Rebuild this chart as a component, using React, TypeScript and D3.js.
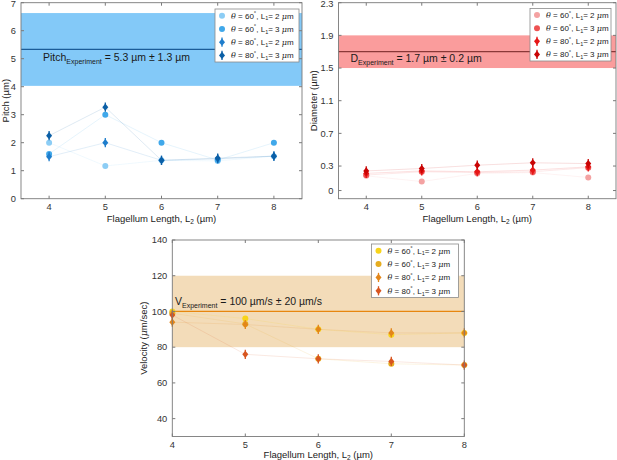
import React, { useEffect, useRef } from 'react';
import * as d3 from 'd3';

// flagellum length L2 (µm)
const lengths = [4, 5, 6, 7, 8];
const xTicks = [4, 5, 6, 7, 8];

// legend entries: theta (deg), L1 (µm)
const thetas = [60, 60, 80, 80];
const l1s = [2, 3, 2, 3];
const shapes = ['circle', 'circle', 'diamond', 'diamond'];

// pitch (µm)
const pitch60L2 = [2.0, 1.17, 1.37, 1.35, 1.52];
const pitch60L3 = [1.6, 3.0, 2.0, 1.38, 2.0];
const pitch80L2 = [1.5, 2.0, 1.37, 1.42, 1.52];
const pitch80L3 = [2.25, 3.27, 1.37, 1.45, 1.52];
const pitchTicks = [0, 1, 2, 3, 4, 5, 6, 7];

// diameter (µm)
const diam60L2 = [0.18, 0.11, 0.21, 0.22, 0.16];
const diam60L3 = [0.19, 0.23, 0.22, 0.23, 0.28];
const diam80L2 = [0.21, 0.24, 0.23, 0.25, 0.29];
const diam80L3 = [0.24, 0.27, 0.31, 0.34, 0.33];
const diamTicks = [0, 0.3, 0.7, 1.1, 1.5, 1.9, 2.3];

// velocity (µm/s)
const vel60L2 = [100, 96, 90, 87, 88];
const vel60L3 = [99, 93, 73.5, 70.7, 70];
const vel80L2 = [94, 92.7, 90, 88, 88];
const vel80L3 = [98, 76, 73.5, 72, 70];
const velTicks = [40, 60, 80, 100, 120, 140];

// experimental values: mean, spread
const pitchExp = [5.33, 1.3];
const diamExp = [1.7, 0.2];
const velExp = [100, 20];

const font = 'Arial, "Liberation Sans", Helvetica, sans-serif';

const panels = [
  {
    box: { l: 21, r: 302, t: 2.7, b: 198.7 },
    xDomain: [3.5, 8.5], yDomain: [0, 7], yTicks: pitchTicks,
    series: [pitch60L2, pitch60L3, pitch80L2, pitch80L3],
    colors: ['#8ccdf5', '#40a8ea', '#1e7dcc', '#0b5fa6'],
    exp: pitchExp, bandColor: '#83c9f8', meanColor: '#1b5c98',
    note: ['Pitch', 'Experiment', ' = 5.3 µm ± 1.3 µm'], noteX: 43, noteY: 61,
    legend: { x: 215, y: 9, w: 84, h: 53 },
    yLabel: 'Pitch (µm)', yLabelX: 9, xLabelY: 221.5, yFormat: d3.format('d'),
  },
  {
    box: { l: 338.5, r: 616, t: 2.7, b: 198.7 },
    xDomain: [3.5, 8.5], yDomain: [-0.1, 2.3], yTicks: diamTicks,
    series: [diam60L2, diam60L3, diam80L2, diam80L3],
    colors: ['#f4a2a2', '#ee5252', '#e61616', '#c90404'],
    exp: diamExp, bandColor: '#fa9c9c', meanColor: '#8a3838',
    note: ['D', 'Experiment', ' = 1.7 µm ± 0.2 µm'], noteX: 350.5, noteY: 62,
    legend: { x: 530, y: 8.5, w: 81, h: 52.5 },
    yLabel: 'Diameter (µm)', yLabelX: 317, xLabelY: 221.5, yFormat: (d: number) => (d === 0 ? '0' : d3.format('.1f')(d)),
  },
  {
    box: { l: 172.3, r: 464.3, t: 240, b: 436.5 },
    xDomain: [4, 8], yDomain: [30, 140], yTicks: velTicks,
    series: [vel60L2, vel60L3, vel80L2, vel80L3],
    colors: ['#f8d41a', '#e6ad20', '#e3861a', '#d8551f'],
    exp: velExp, bandColor: '#f3dcb9', meanColor: '#e7860f',
    note: ['V', 'Experiment', ' = 100 µm/s ± 20 µm/s'], noteX: 175, noteY: 305,
    legend: { x: 371.5, y: 244, w: 87, h: 53.5 },
    yLabel: 'Velocity (μm/sec)', yLabelX: 147, xLabelY: 458, yFormat: d3.format('d'),
  },
];

const App: React.FC = () => {
  const ref = useRef<SVGSVGElement | null>(null);

  useEffect(() => {
    if (!ref.current) return;
    const svg = d3.select(ref.current);
    svg.selectAll('*').remove();

    panels.forEach((p) => {
      const { l, r, t, b } = p.box;
      const x = d3.scaleLinear().domain(p.xDomain).range([l, r]);
      const y = d3.scaleLinear().domain(p.yDomain).range([b, t]);
      const g = svg.append('g').attr('font-family', font);

      // experimental band and mean line
      const [mean, spread] = p.exp;
      g.append('rect')
        .attr('x', l).attr('width', r - l)
        .attr('y', y(mean + spread)).attr('height', y(mean - spread) - y(mean + spread))
        .attr('fill', p.bandColor);
      g.append('line')
        .attr('x1', l).attr('x2', r)
        .attr('y1', y(mean)).attr('y2', y(mean))
        .attr('stroke', p.meanColor).attr('stroke-width', 1.3);

      // note text
      const note = g.append('text')
        .attr('x', p.noteX).attr('y', p.noteY)
        .attr('font-size', 10.5).attr('fill', '#1a1a1a');
      note.append('tspan').text(p.note[0]);
      note.append('tspan').attr('font-size', 7).attr('dy', 2.5).text(p.note[1]);
      note.append('tspan').attr('dy', -2.5).text(p.note[2]);

      // faint connecting lines
      const line = d3.line<number>()
        .x((_, i) => x(lengths[i]))
        .y((d) => y(d));
      p.series.forEach((s, k) => {
        g.append('path')
          .attr('d', line(s) || '')
          .attr('fill', 'none')
          .attr('stroke', p.colors[k])
          .attr('stroke-opacity', 0.13)
          .attr('stroke-width', 1);
      });

      // markers
      const drawMarker = (sel: d3.Selection<SVGGElement, unknown, null, undefined>, cx: number, cy: number, shape: string, color: string) => {
        if (shape === 'circle') {
          sel.append('circle').attr('cx', cx).attr('cy', cy).attr('r', 3).attr('fill', color);
        } else {
          sel.append('line')
            .attr('x1', cx).attr('x2', cx).attr('y1', cy - 4.6).attr('y2', cy + 4.6)
            .attr('stroke', color).attr('stroke-width', 1.3);
          sel.append('path')
            .attr('d', `M${cx},${cy - 3.6}L${cx + 3},${cy}L${cx},${cy + 3.6}L${cx - 3},${cy}Z`)
            .attr('fill', color);
        }
      };
      const marks = g.append('g') as unknown as d3.Selection<SVGGElement, unknown, null, undefined>;
      p.series.forEach((s, k) => {
        s.forEach((v, i) => drawMarker(marks, x(lengths[i]), y(v), shapes[k], p.colors[k]));
      });

      // axis box with inward ticks on all sides
      g.append('rect')
        .attr('x', l).attr('y', t).attr('width', r - l).attr('height', b - t)
        .attr('fill', 'none').attr('stroke', '#7a7a7a').attr('stroke-width', 0.9);
      const tickLen = 3;
      xTicks.forEach((v) => {
        g.append('line').attr('x1', x(v)).attr('x2', x(v)).attr('y1', b).attr('y2', b - tickLen).attr('stroke', '#7a7a7a');
        g.append('line').attr('x1', x(v)).attr('x2', x(v)).attr('y1', t).attr('y2', t + tickLen).attr('stroke', '#7a7a7a');
        g.append('text')
          .attr('x', x(v)).attr('y', b + 11)
          .attr('text-anchor', 'middle').attr('font-size', 9.3).attr('fill', '#333')
          .text(v);
      });
      p.yTicks.forEach((v) => {
        g.append('line').attr('x1', l).attr('x2', l + tickLen).attr('y1', y(v)).attr('y2', y(v)).attr('stroke', '#7a7a7a');
        g.append('line').attr('x1', r).attr('x2', r - tickLen).attr('y1', y(v)).attr('y2', y(v)).attr('stroke', '#7a7a7a');
        g.append('text')
          .attr('x', l - 5).attr('y', Math.max(y(v) + 3.3, 7.4))
          .attr('text-anchor', 'end').attr('font-size', 9.3).attr('fill', '#333')
          .text(p.yFormat(v));
      });

      // axis labels
      const xl = g.append('text')
        .attr('x', (l + r) / 2).attr('y', p.xLabelY)
        .attr('text-anchor', 'middle').attr('font-size', 9.5).attr('fill', '#222');
      xl.append('tspan').text('Flagellum Length, L');
      xl.append('tspan').attr('font-size', 6.5).attr('dy', 2).text('2');
      xl.append('tspan').attr('dy', -2).text(' (µm)');

      const yl = g.append('text')
        .attr('transform', `translate(${p.yLabelX},${(t + b) / 2}) rotate(-90)`)
        .attr('text-anchor', 'middle').attr('font-size', 9.5).attr('fill', '#222');
      if (p.yLabel.includes('μ')) {
        yl.append('tspan').text('Velocity (');
        yl.append('tspan').attr('font-family', '"DejaVu Serif", serif').attr('font-style', 'italic').text('μ');
        yl.append('tspan').text('m/sec)');
      } else {
        yl.text(p.yLabel);
      }

      // legend
      const lg = p.legend;
      g.append('rect')
        .attr('x', lg.x).attr('y', lg.y).attr('width', lg.w).attr('height', lg.h)
        .attr('fill', '#fff').attr('stroke', '#8a8a8a').attr('stroke-width', 0.8);
      const rowH = lg.h / 4;
      const lm = g.append('g') as unknown as d3.Selection<SVGGElement, unknown, null, undefined>;
      thetas.forEach((th, k) => {
        const cy = lg.y + rowH * (k + 0.5);
        drawMarker(lm, lg.x + 7, cy, shapes[k], p.colors[k]);
        const tx = g.append('text')
          .attr('x', lg.x + 16).attr('y', cy + 3)
          .attr('font-size', 8).attr('fill', '#222');
        tx.append('tspan').attr('font-family', '"DejaVu Serif", serif').attr('font-style', 'italic').text('θ');
        tx.append('tspan').text(` = ${th}`);
        tx.append('tspan').attr('font-size', 6).attr('dy', -3.5).text('°');
        tx.append('tspan').attr('dy', 3.5).text(', L');
        tx.append('tspan').attr('font-size', 5.5).attr('dy', 1.8).text('1');
        tx.append('tspan').attr('dy', -1.8).text(`= ${l1s[k]} `);
        tx.append('tspan').attr('font-family', '"DejaVu Serif", serif').attr('font-style', 'italic').text('μ');
        tx.append('tspan').text('m');
      });
    });
  }, []);

  return (
    <svg
      ref={ref}
      width={617}
      height={460}
      style={{ position: 'absolute', left: 0, top: 0, background: '#fff' }}
    />
  );
};

export default App;
